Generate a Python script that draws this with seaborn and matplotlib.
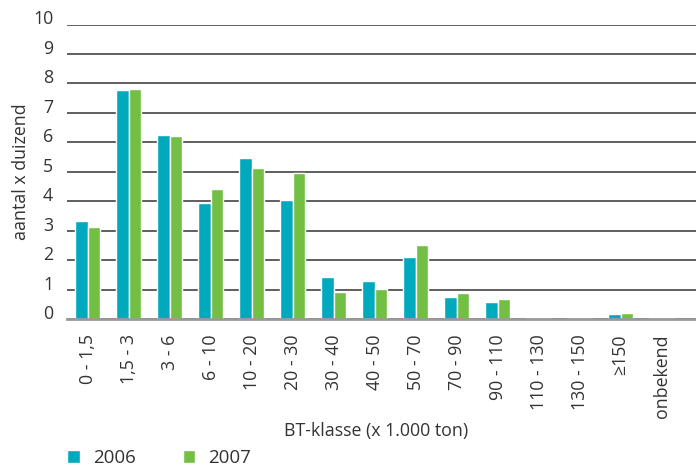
import matplotlib
matplotlib.use("Agg")
import matplotlib.pyplot as plt
import seaborn as sns
import pandas as pd
import numpy as np

categories = ["0 - 1,5", "1,5 - 3", "3 - 6", "6 - 10", "10 - 20", "20 - 30", "30 - 40",
              "40 - 50", "50 - 70", "70 - 90", "90 - 110", "110 - 130", "130 - 150",
              "≥150", "onbekend"]
values_2006 = [3.33, 7.78, 6.25, 3.94, 5.47, 4.04, 1.43, 1.29, 2.11, 0.75, 0.58, 0.04, 0.04, 0.17, 0.04]
values_2007 = [3.12, 7.81, 6.21, 4.41, 5.13, 4.96, 0.92, 1.02, 2.51, 0.88, 0.68, 0.04, 0.04, 0.20, 0.04]
years = ["2006", "2007"]
colors = ["#00AABC", "#72BF44"]

df = pd.DataFrame({
    "klasse": categories * 2,
    "jaar": [years[0]] * len(categories) + [years[1]] * len(categories),
    "aantal": values_2006 + values_2007,
})

sns.set_style("white")
plt.rcParams["font.family"] = ["Open Sans", "DejaVu Sans"]

W, H = 696, 466
fig = plt.figure(figsize=(6.96, 4.66), dpi=100)
ax_h = 319 - 24.5
ax = fig.add_axes([67 / W, 1 - 319 / H, 1 - 67 / W, ax_h / H])

sns.barplot(data=df, x="klasse", y="aantal", hue="jaar", palette=colors,
            width=0.63, ax=ax, saturation=1, legend=True)

ax.set_ylim(0, 10)
ax.set_xlim(-0.5, 14.84)
ax.set_yticks(range(0, 11))
ax.yaxis.grid(True, color="#444444", linewidth=1.2)
ax.set_axisbelow(True)
for s in ["top", "right", "left"]:
    ax.spines[s].set_visible(False)
ax.spines["bottom"].set_color("#999999")
ax.spines["bottom"].set_linewidth(2)

fs = 12.8
ax.tick_params(axis="y", length=0, pad=10, labelsize=fs, labelcolor="#333333")
for lab in ax.get_yticklabels():
    lab.set_va("baseline")
ax.tick_params(axis="x", which="major", length=0, pad=11, labelsize=fs,
               labelcolor="#333333", labelrotation=90)
ax.set_xticks(np.arange(-0.5, 15.0, 1.0), minor=True)
ax.tick_params(axis="x", which="minor", direction="in", length=7, width=1.2, color="#333333")

ax.set_ylabel("aantal x duizend", fontsize=fs, color="#333333")
ax.yaxis.set_label_coords((30 - 67) / (W - 67), 0.5)
ax.set_xlabel("BT-klasse (x 1.000 ton)", fontsize=fs, color="#333333")
ax.xaxis.set_label_coords((376 - 67) / (W - 67), (319 - 422) / ax_h)

leg = ax.legend(loc="center left", bbox_to_anchor=(58 / W, 1 - 458 / H),
                bbox_transform=fig.transFigure, ncol=2, frameon=False, borderpad=0,
                fontsize=13.5, handlelength=0.67, handleheight=0.67, handletextpad=0.7,
                columnspacing=2.5, labelcolor="#333333")

fig.savefig("out.png", dpi=100)
